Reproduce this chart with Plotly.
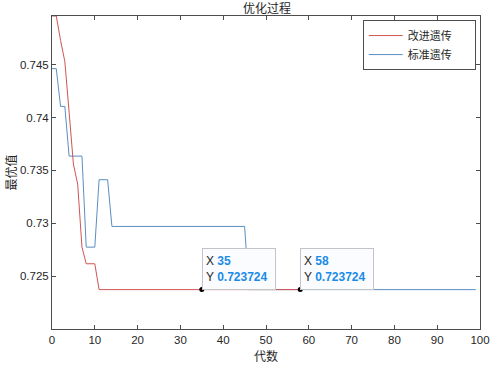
import plotly.graph_objects as go

# ---- data ----
gens_improved = list(range(0, 59))
improved = [0.7496, 0.7496, 0.7473, 0.7453, 0.7405, 0.7356, 0.7337, 0.72775,
            0.72617, 0.72617, 0.72617] + [0.723724] * 48

gens_standard = list(range(0, 100))
standard = [0.74462, 0.74462, 0.74105, 0.74105, 0.73635, 0.73635, 0.73635,
            0.73635, 0.72774, 0.72774, 0.72774, 0.73412, 0.73412, 0.73412] \
           + [0.7297] * 32 + [0.723724] * 54

series_names = ["改进遗传", "标准遗传"]
tip_points = [(35, "improved"), (58, "improved")]

y_tickvals = [0.725, 0.73, 0.735, 0.74, 0.745]
y_ticktext = ["0.725", "0.73", "0.735", "0.74", "0.745"]
x_tickvals = [0, 10, 20, 30, 40, 50, 60, 70, 80, 90, 100]

RED = "#D05454"
BLUE = "#5A8EC2"
AX = "#4d4d4d"
TXT = "#262626"
TIPBLUE = "#1a8be6"
PAD = "\u00a0" * 7  # right padding inside the legend box

fig = go.Figure()
# standard drawn first, improved on top
fig.add_trace(go.Scatter(x=gens_standard, y=standard, mode="lines",
                         name=series_names[1] + PAD, line=dict(color=BLUE, width=1),
                         legendrank=2))
fig.add_trace(go.Scatter(x=gens_improved, y=improved, mode="lines",
                         name=series_names[0] + PAD, line=dict(color=RED, width=1),
                         legendrank=1))

series = {"improved": (gens_improved, improved)}
tx, ty = [], []
for gx, key in tip_points:
    xs, ys = series[key]
    idx = xs.index(gx)
    tx.append(xs[idx])
    ty.append(ys[idx])

fig.add_trace(go.Scatter(x=tx, y=ty, mode="markers", showlegend=False,
                         marker=dict(color="black", size=5)))

annotations = []
for xv, yv in zip(tx, ty):
    annotations.append(dict(
        x=xv, y=yv, xref="x", yref="y", xanchor="left", yanchor="bottom",
        showarrow=False, align="left",
        text=(f"X <b><span style='color:{TIPBLUE}'>{xv}</span></b><br>"
              f"Y <b><span style='color:{TIPBLUE}'>{yv:.6f}</span></b>"),
        font=dict(family="Liberation Sans, Arial, sans-serif", size=12, color=TXT),
        bgcolor="#fbfcff", bordercolor="#c4c4c4", borderwidth=1, borderpad=3,
        width=66, height=34, valign="middle",
    ))

annotations.append(dict(text="最优值", xref="paper", yref="paper",
                        x=-0.098, y=0.5, textangle=-90, showarrow=False,
                        xanchor="center", yanchor="middle",
                        font=dict(family="Noto Sans CJK SC", size=12, color=TXT)))
annotations.append(dict(text="代数", xref="paper", yref="paper",
                        x=0.5, y=-0.086, showarrow=False,
                        xanchor="center", yanchor="middle",
                        font=dict(family="Noto Sans CJK SC", size=12, color=TXT)))

fig.update_layout(
    width=490, height=365,
    margin=dict(l=52, r=10, t=16, b=36, autoexpand=False),
    paper_bgcolor="white", plot_bgcolor="white",
    font=dict(family="Liberation Sans, Arial, sans-serif", size=11.5, color=TXT),
    title=dict(text="优化过程", x=0.545, xanchor="center", y=1 - 9 / 365,
               yanchor="middle", yref="container", automargin=False,
               font=dict(family="Noto Sans CJK SC", size=12, color=TXT)),
    showlegend=True,
    legend=dict(x=0.99, y=0.987, xanchor="right", yanchor="top",
                bgcolor="white", bordercolor=AX, borderwidth=1,
                font=dict(family="Noto Sans CJK SC", size=11, color=TXT),
                itemwidth=34, tracegroupgap=0),
    annotations=annotations,
)
fig.update_xaxes(range=[0, 100], tickvals=x_tickvals, ticks="inside", ticklen=4,
                 tickcolor=AX, showline=True, linecolor=AX, linewidth=1,
                 mirror="allticks", showgrid=False, zeroline=False, automargin=False)
fig.update_yaxes(range=[0.72, max(improved)], tickvals=y_tickvals, ticktext=y_ticktext,
                 ticks="inside", ticklen=4, tickcolor=AX, showline=True,
                 linecolor=AX, linewidth=1, mirror="allticks", showgrid=False,
                 zeroline=False, automargin=False)

fig.write_html("out.html", config={"displayModeBar": False},
               post_script="document.body.style.margin='0px';document.body.style.overflow='hidden';")
